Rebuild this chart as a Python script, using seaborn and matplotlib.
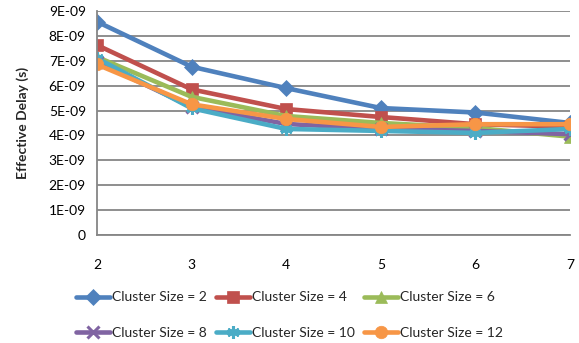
import numpy as np
import pandas as pd
import seaborn as sns
import matplotlib.pyplot as plt
from matplotlib.ticker import FuncFormatter

# values (seconds)
num_clusters = [2, 3, 4, 5, 6, 7]
size_2 = [8.57e-9, 6.76e-9, 5.90e-9, 5.10e-9, 4.92e-9, 4.50e-9]
size_4 = [7.63e-9, 5.85e-9, 5.06e-9, 4.74e-9, 4.45e-9, 4.35e-9]
size_6 = [7.15e-9, 5.55e-9, 4.78e-9, 4.50e-9, 4.30e-9, 3.95e-9]
size_8 = [6.95e-9, 5.15e-9, 4.46e-9, 4.26e-9, 4.18e-9, 4.05e-9]
size_10 = [7.10e-9, 5.09e-9, 4.26e-9, 4.18e-9, 4.10e-9, 4.26e-9]
size_12 = [6.85e-9, 5.25e-9, 4.66e-9, 4.34e-9, 4.45e-9, 4.45e-9]
labels = ["Cluster Size = 2", "Cluster Size = 4", "Cluster Size = 6",
          "Cluster Size = 8", "Cluster Size = 10", "Cluster Size = 12"]
series = [size_2, size_4, size_6, size_8, size_10, size_12]

colors = ["#4F81BD", "#C0504D", "#9BBB59", "#8064A2", "#4BACC6", "#F79646"]
markers = ["D", "s", "^", "x", (6, 2, 0), "o"]
msizes = [8, 8.5, 8.5, 8, 9, 9]

sns.set_theme(style="white")
plt.rcParams['font.family'] = ['Lato', 'DejaVu Sans']

fig = plt.figure(figsize=(5.79, 3.43), dpi=100)
ax = fig.add_axes([0.1675, 0.315, 0.817, 0.653])

for lab, vals, col, mk, ms in zip(labels, series, colors, markers, msizes):
    df = pd.DataFrame({"n": num_clusters, "delay": vals})
    thin = mk in ("x", (6, 2, 0))
    sns.lineplot(data=df, x="n", y="delay", ax=ax, color=col, marker=mk,
                 markersize=ms, linewidth=3.3, markeredgewidth=2.2 if thin else 0.5,
                 markeredgecolor=col, label=lab)

ax.set_xlim(2, 7)
ax.set_ylim(0, 9e-9)
ax.set_xticks(num_clusters)
ax.set_yticks(np.arange(0, 9.5e-9, 1e-9))
ax.yaxis.set_major_formatter(FuncFormatter(lambda v, p: "0" if v == 0 else f"{v:.0E}"))
ax.grid(axis="y", color="#868686", linewidth=1.3)
ax.grid(axis="x", visible=False)
ax.set_axisbelow(True)
for s in ["top", "right"]:
    ax.spines[s].set_visible(False)
for s in ["left", "bottom"]:
    ax.spines[s].set_color("#868686")
    ax.spines[s].set_linewidth(1.3)
ax.tick_params(axis="both", direction="out", length=5, width=1.3, color="#868686",
               labelsize=10, labelcolor="black", pad=3)
ax.tick_params(axis="x", pad=12)
ax.set_xlabel("")
ax.set_ylabel("Effective Delay (s)", fontsize=10, fontweight="bold", labelpad=14)

handles, labs = ax.get_legend_handles_labels()
ax.legend_.remove()
# matplotlib fills legend columns first, so reorder to read row by row
order = [0, 3, 1, 4, 2, 5]
fig.legend([handles[i] for i in order], [labs[i] for i in order],
           loc="lower center", bbox_to_anchor=(0.5, -0.025), ncol=3,
           frameon=False, fontsize=10, handlelength=2.4, handletextpad=0.15,
           columnspacing=0.7, labelspacing=1.7)

fig.savefig("out.png", dpi=100)
